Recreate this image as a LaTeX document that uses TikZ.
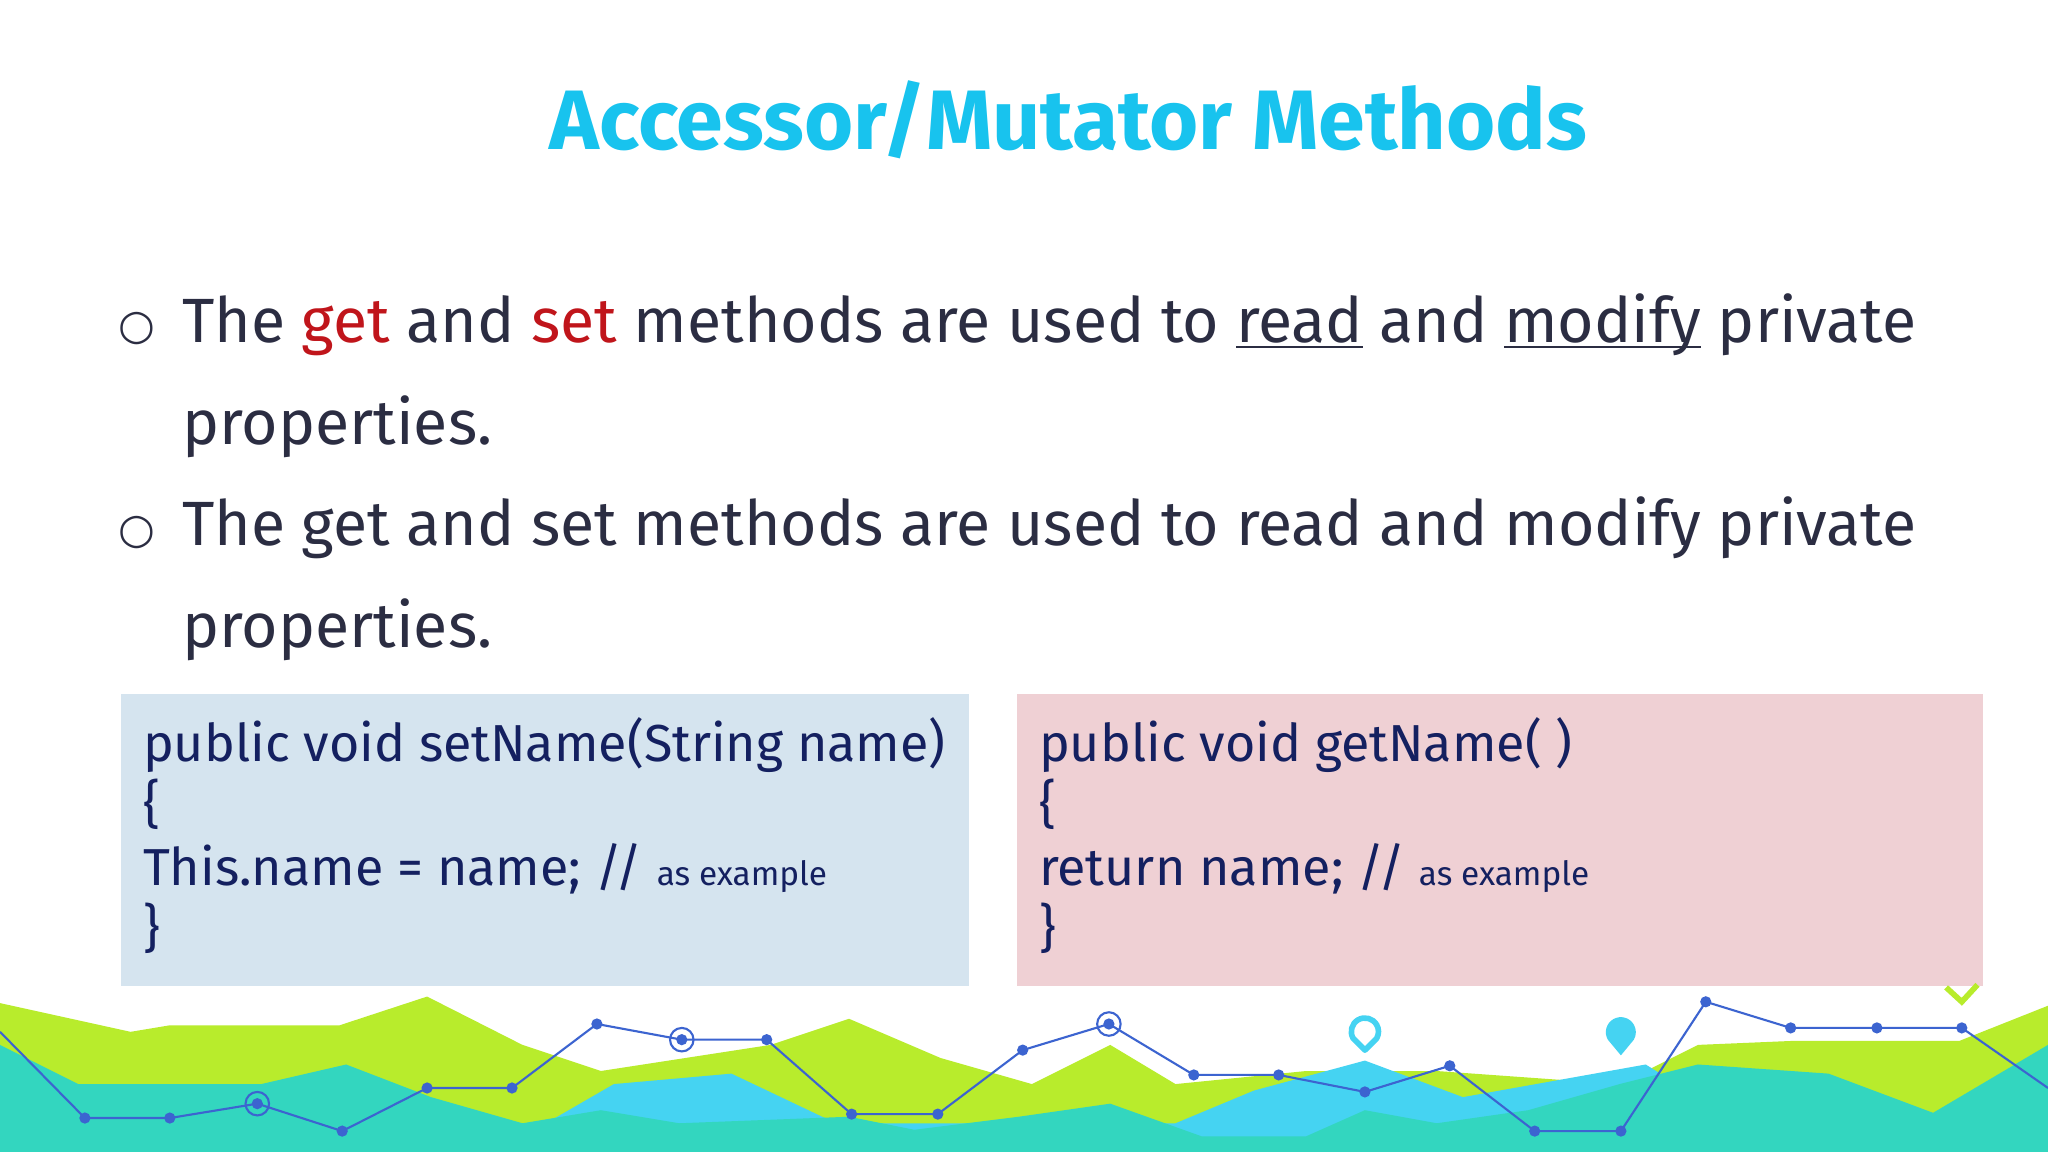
\documentclass[tikz,border=0pt]{standalone}
\usepackage{fontspec}
\setmainfont{Fira Sans}
\newfontfamily\symf{DejaVu Sans}
\newcommand{\myul}[1]{\underline{\smash{#1}}}
\definecolor{ink}{HTML}{2B2D42}
\definecolor{titlec}{HTML}{18C3EE}
\definecolor{redw}{HTML}{C0151B}
\definecolor{codec}{HTML}{142060}
\definecolor{bluebox}{HTML}{D5E4EF}
\definecolor{pinkbox}{HTML}{EFD0D4}
\definecolor{lime}{HTML}{B8EC2C}
\definecolor{teal}{HTML}{33D6BF}
\definecolor{sky}{HTML}{45D3F2}
\definecolor{linec}{HTML}{3C64D0}
\tikzset{body/.style={anchor=base west,inner sep=0,text=ink,font=\fontsize{17.8}{22}\selectfont},
code/.style={anchor=base west,inner sep=0,text=codec,font=\fontsize{14.8}{18}\selectfont},
dot/.style={circle,fill=linec,inner sep=0,minimum size=3.2pt}}
\begin{document}
\begin{tikzpicture}[x=0.013061cm,y=-0.013061cm]
\useasboundingbox (0,0) rectangle (1568,882);
\fill[white] (0,0) rectangle (1568,882);
\node[text=titlec,font=\bfseries\fontsize{24}{28}\selectfont] (title) at (818,92) {Accessor/Mutator Methods};
\node[body,font=\symf\fontsize{12}{14}\selectfont] (b1) at (90,260) {○};
\node[body] (l1) at (139,262) {The \textcolor{redw}{get} and \textcolor{redw}{set} methods are used to \myul{read} and \myul{modify} private};
\node[body] (l2) at (139,340) {properties.};
\node[body,font=\symf\fontsize{12}{14}\selectfont] (b2) at (90,416) {○};
\node[body] (l3) at (139,418) {The get and set methods are used to read and modify private};
\node[body] (l4) at (139,496) {properties.};
\fill[bluebox] (93,531) rectangle (742,755);
\fill[pinkbox] (779,531) rectangle (1518,755);
\node[code] (c1) at (109,583) {public void setName(String name)};
\node[code] (c2) at (109,630) {\{};
\node[code] (c3) at (109,678) {This.name = name; // {\fontsize{9.5}{11}\selectfont as example}};
\node[code] (c4) at (109,725) {\}};
\node[code] (d1) at (795,583) {public void getName( )};
\node[code] (d2) at (795,630) {\{};
\node[code] (d3) at (795,678) {return name; // {\fontsize{9.5}{11}\selectfont as example}};
\node[code] (d4) at (795,725) {\}};
% decoration
\fill[lime] (0,768)--(100,790)--(130,785)--(260,785)--(327,763)--(400,800)--(460,820)--(590,800)--(650,780)--(720,810)--(790,830)--(850,800)--(900,830)--(1000,820)--(1100,820)--(1240,830)--(1300,800)--(1371,797)--(1500,797)--(1568,770)--(1568,882)--(0,882)--cycle;
\fill[sky] (380,882)--(470,830)--(560,822)--(640,860)--(900,860)--(960,835)--(1045,812)--(1120,840)--(1260,815)--(1300,840)--(1300,882)--cycle;
\fill[teal] (0,800)--(60,830)--(200,830)--(265,815)--(330,840)--(400,860)--(460,850)--(520,860)--(650,855)--(700,865)--(780,855)--(850,845)--(920,870)--(1000,870)--(1045,850)--(1100,860)--(1170,850)--(1240,830)--(1300,815)--(1400,822)--(1480,852)--(1568,800)--(1568,882)--(0,882)--cycle;
\draw[linec,line width=0.6pt] (0,790)--(65,856)--(130,856)--(197,845)--(262,866)--(327,833)--(392,833)--(457,784)--(522,796)--(587,796)--(652,853)--(718,853)--(783,804)--(849,784)--(914,823)--(979,823)--(1045,836)--(1110,816)--(1175,866)--(1241,866)--(1306,767)--(1371,787)--(1437,787)--(1502,787)--(1568,833);
\foreach \p in {(65,856),(130,856),(197,845),(262,866),(327,833),(392,833),(457,784),(522,796),(587,796),(652,853),(718,853),(783,804),(849,784),(914,823),(979,823),(1045,836),(1110,816),(1175,866),(1241,866),(1306,767),(1371,787),(1437,787),(1502,787)}
  \node[dot] at \p {};
\foreach \p in {(197,845),(522,796),(849,784)} \draw[linec,line width=0.6pt] \p circle (9);
\draw[sky,line width=1.6pt,line join=round] (1045,804)--(1036,795) arc[start angle=150,end angle=390,radius=10.4]--cycle;
\fill[sky] (1241,808)--(1231,796) arc[start angle=150,end angle=390,radius=11.5]--cycle;
\draw[lime,line width=1.6pt] (1490,756)--(1502,767)--(1514,754);
\end{tikzpicture}
\end{document}
